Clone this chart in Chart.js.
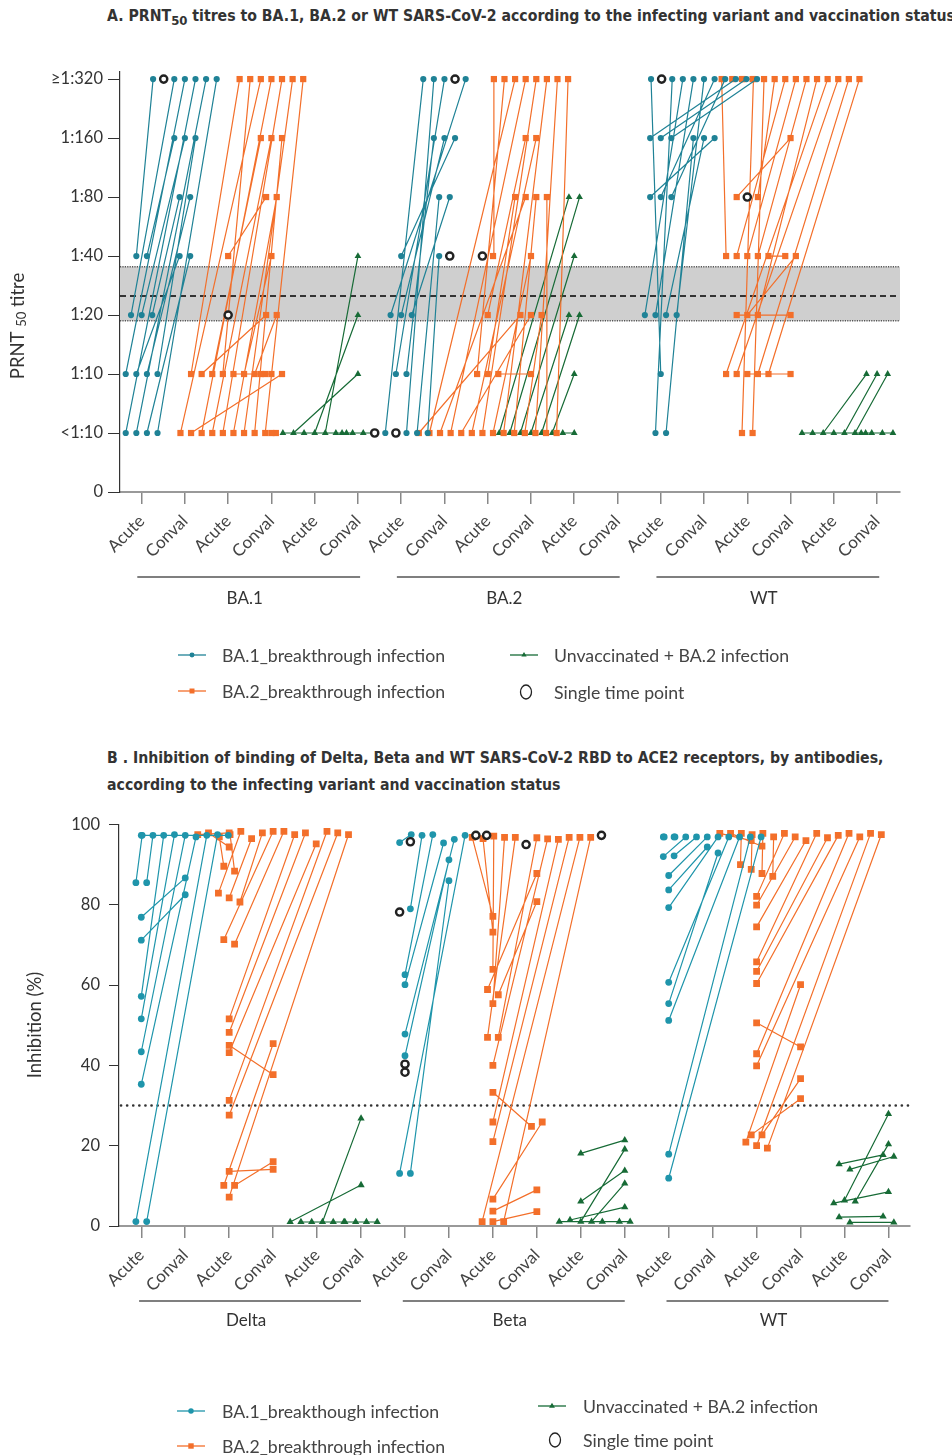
<!DOCTYPE html>
<html>
<head>
<meta charset="utf-8">
<script src="https://cdn.jsdelivr.net/npm/chart.js@4.4.0/dist/chart.umd.min.js"></script>
<style>
  body { margin: 0; background: #fff; width: 952px; height: 1455px; position: relative; overflow: hidden; font-family: Lato, sans-serif; }
  .title { position: absolute; left: 107px; font-family: "Liberation Sans Narrow", "DejaVu Sans Condensed", sans-serif; font-weight: bold; font-size: 15.7px; color: #333; white-space: nowrap; }
  .title sub { font-size: 13px; }
  canvas { position: absolute; left: 0; }
</style>
</head>
<body>
<div class="title" style="top:6px">A. PRNT<sub>50</sub> titres to BA.1, BA.2 or WT SARS-CoV-2 according to the infecting variant and vaccination status</div>
<canvas id="chartA" width="952" height="730" style="top:0"></canvas>
<div class="title" style="top:744px; line-height:27px">B . Inhibition of binding of Delta, Beta and WT SARS-CoV-2 RBD to ACE2 receptors, by antibodies,<br>according to the infecting variant and vaccination status</div>
<canvas id="chartB" width="952" height="725" style="top:730px"></canvas>
<script>
// Axis labels
const xTickLabels = ['Acute', 'Conval', 'Acute', 'Conval', 'Acute', 'Conval',
                     'Acute', 'Conval', 'Acute', 'Conval', 'Acute', 'Conval',
                     'Acute', 'Conval', 'Acute', 'Conval', 'Acute', 'Conval'];
const yTicksA = ['0', '<1:10', '1:10', '1:20', '1:40', '1:80', '1:160', '\u22651:320'];
const yTicksB = [0, 20, 40, 60, 80, 100];
const groupsA = ['BA.1', 'BA.2', 'WT'];
const groupsB = ['Delta', 'Beta', 'WT'];
const cohortNames = ['BA.1_breakthrough infection', 'BA.2_breakthrough infection', 'Unvaccinated + BA.2 infection', 'Single time point'];
const cohortNamesB = ['BA.1_breakthough infection', 'BA.2_breakthrough infection', 'Unvaccinated + BA.2 infection', 'Single time point'];

// Panel A: PRNT50 titres (reciprocal; 5 = <1:10, 320 = >=1:320). null = single time point
// b1 = BA.1 breakthrough, b2 = BA.2 breakthrough, un = unvaccinated + BA.2
const A_ba1_b1_acute  = [40, 40, null, 20, 20, 20, 10, 10, 10, 10, 5, 5, 5, 5];
const A_ba1_b1_conval = [320, 160, 320, 320, 160, 80, 320, 40, 80, 160, 320, 320, 40, 320];
const A_ba1_b2_acute  = [40, 20, 10, 10, 10, 10, 10, 10, 10, 10, 5, 5, 5, 5, 5, 5, 5, 5, 5, 5];
const A_ba1_b2_conval = [80, null, 320, 20, 160, 320, 10, 40, 20, 10, 320, 10, 320, 160, 320, 80, 320, 160, 320, 5];
const A_ba1_un_acute  = [5, 5, 5, 5, 5, 5, 5];
const A_ba1_un_conval = [5, 10, 5, 20, 40, 5, 5];

const A_ba2_b1_acute  = [5, 5, 5, 5, 5, 5, 10, null, 10, 20, 20, 20, 40, null];
const A_ba2_b1_conval = [null, 320, null, 320, 80, 40, 320, 320, 160, 320, 160, 80, 160, 40];
const A_ba2_b2_acute  = [40, 40, 20, 10, 10, 10, 5, 5, 5, 5, 5, 5, 5, 5, 5, 5, 5, 5, 5, 5];
const A_ba2_b2_conval = [null, 320, 160, 320, 80, 10, 20, 320, 80, 320, 20, 160, 320, 40, 320, 80, 20, 320, 80, 320];
const A_ba2_un_acute  = [5, 5, 5, 5, 5, 5, 5];
const A_ba2_un_conval = [80, 80, 40, 20, 20, 10, 5];

const A_wt_b1_acute  = [10, null, 5, 20, 20, 5, 20, 20, 80, 80, 80, 160, 160, 160];
const A_wt_b1_conval = [320, 320, 320, 320, 320, 160, 160, 320, 160, 320, 320, 320, 320, 320];
const A_wt_b2_acute  = [40, 320, 320, 5, 5, 80, 80, 80, 40, 40, 40, 40, 20, 20, 20, 10, 10, 10, 10, 10];
const A_wt_b2_conval = [320, 320, 320, 320, 320, 160, null, 320, 320, 320, 320, 40, 20, 40, 320, 320, 320, 10, 320, 320];
const A_wt_un_acute  = [5, 5, 5, 5, 5, 5, 5];
const A_wt_un_conval = [5, 5, 10, 5, 10, 10, 5];

// Panel B: % inhibition of RBD-ACE2 binding
const B_delta_b1_acute  = [85.5, 85.5, 76.9, 71.2, 57.2, 51.6, 43.4, 35.3, 1.1, 1.1, 97.3];
const B_delta_b1_conval = [97.3, 97.3, 86.7, 82.5, 97.3, 97.5, 97.3, 96.9, 97.3, 97.5, 97.3];
const B_delta_b2_acute  = [97.9, 94.4, 89.6, 88.4, 82.9, 81.7, 80.7, 71.3, 70.2, 51.6, 48.2, 45.0, 43.2, 31.3, 27.6, 13.6, 10.1, 10.1, 7.2];
const B_delta_b2_conval = [97.5, 97.9, 96.9, 97.5, 98.3, 96.5, 97.9, 98.3, 98.3, 97.5, 97.9, 37.7, 95.2, 98.3, 97.9, 14.1, 45.4, 16.0, 97.5];
const B_delta_un_acute  = [1.0, 1.0, 1.0, 1.0, 1.0, 1.0];
const B_delta_un_conval = [10.2, 1.0, 1.0, 26.8, 1.0, 1.0];

const B_beta_b1_acute  = [95.5, 95.7, 78.2, 79.0, 62.6, 60.1, 47.8, 42.4, 40.3, 38.3, 13.1, 13.1, null, null];
const B_beta_b1_conval = [97.5, null, null, 97.3, 97.5, 95.4, 96.3, 91.2, null, null, 97.3, 86.0, 97.3, 97.3];
const B_beta_b2_acute  = [77.1, 73.2, 63.9, 58.9, 57.6, 55.4, 47.0, null, 47.0, 40.0, 33.3, 25.9, 21.0, 6.7, 3.7, 1.1, 1.1, 1.1, null];
const B_beta_b2_conval = [96.8, 96.5, 97.1, 87.8, 80.8, 96.8, 96.8, 95.0, 96.7, 96.4, 24.8, 96.3, 96.8, 25.9, 9.0, 96.8, 3.6, 96.8, 97.3];
const B_beta_un_acute  = [18.1, 6.1, 1.1, 1.5, 1.1, 1.1, 1.1];
const B_beta_un_conval = [21.4, 13.8, 1.1, 4.7, 19.1, 10.6, 1.1];

const B_wt_b1_acute  = [96.9, 96.9, 92.0, 92.2, 87.3, 83.7, 79.3, 60.7, 55.4, 51.2, 17.9, 11.9];
const B_wt_b1_conval = [96.9, 96.9, 96.9, 96.9, 96.9, 94.4, 96.9, 96.9, 92.9, 96.9, 96.9, 96.9];
const B_wt_b2_acute  = [96.0, 94.6, 90.0, 88.8, 87.8, 87.1, 82.1, 79.9, 74.5, 65.8, 63.4, 60.4, 50.6, 42.9, 39.9, 22.7, 22.7, 20.9, 20.0, 19.4];
const B_wt_b2_conval = [97.8, 97.8, 97.8, 97.5, 97.8, 96.9, 97.8, 96.9, 96.0, 97.8, 96.7, 97.3, 44.6, 97.8, 96.9, 31.7, 36.7, 60.1, 97.8, 97.5];
const B_wt_un_acute  = [15.4, 14.1, 5.7, 6.4, 6.1, 2.2, 0.9];
const B_wt_un_conval = [17.7, 17.3, 8.5, 27.9, 20.4, 2.4, 0.9];

// Reference lines
const bandA = [18.7, 35.3];   // grey band (titre)
const cutoffA = 25;           // dashed line (titre)
const cutoffB = 30;           // dotted line (%)

// ---------- helpers ----------
const STEP = 0.245; // horizontal spacing of overlapping points, in slot units

const styleA = {
  b1: { color: '#1f8296', pointStyle: 'circle', radius: 3.1 },
  b2: { color: '#f36f2a', pointStyle: 'rect', radius: 4.4 },
  un: { color: '#176b36', pointStyle: 'triangle', radius: 3.9 }
};
const styleB = {
  b1: { color: '#1f95ab', pointStyle: 'circle', radius: 3.4 },
  b2: { color: '#f36f2a', pointStyle: 'rect', radius: 4.8 },
  un: { color: '#176b36', pointStyle: 'triangle', radius: 4.2 }
};

const titreToLevel = t => Math.log2(t / 5) + 1;

// spread points that sit on (nearly) the same value into a centred row
function swarm(ys, tol) {
  const off = ys.map(() => 0);
  const order = ys.map((v, i) => i).filter(i => ys[i] !== null).sort((a, b) => ys[a] - ys[b] || a - b);
  let run = [];
  const flush = () => {
    run.sort((a, b) => a - b).forEach((i, k) => { off[i] = (k - (run.length - 1) / 2) * STEP; });
    run = [];
  };
  order.forEach(i => {
    if (run.length && ys[i] - ys[run[run.length - 1]] > tol) flush();
    run.push(i);
  });
  flush();
  return off;
}

function buildDatasets(series, yOf, tol, style) {
  const datasets = [];
  const singles = [];
  series.forEach(s => {
    const ya = s.acute.map(v => v === null ? null : yOf(v));
    const yc = s.conval.map(v => v === null ? null : yOf(v));
    const oa = swarm(ya, tol), oc = swarm(yc, tol);
    const pts = [];
    ya.forEach((_, i) => {
      const p = ya[i] === null ? null : { x: s.slots[0] + oa[i], y: ya[i] };
      const q = yc[i] === null ? null : { x: s.slots[1] + oc[i], y: yc[i] };
      if (p && q) pts.push(p, q, { x: q.x, y: null });
      else singles.push(p || q);
    });
    const st = style[s.cohort];
    datasets.push({
      data: pts,
      showLine: true,
      spanGaps: false,
      borderColor: st.color,
      borderWidth: 1.2,
      backgroundColor: st.color,
      pointBackgroundColor: st.color,
      pointBorderColor: st.color,
      pointBorderWidth: 0,
      pointStyle: st.pointStyle,
      pointRadius: st.radius,
      order: { un: 3, b2: 2, b1: 1 }[s.cohort]
    });
  });
  datasets.push({
    data: singles,
    showLine: false,
    pointStyle: 'circle',
    pointRadius: 3.6,
    pointBackgroundColor: '#fff',
    pointBorderColor: '#222',
    pointBorderWidth: 2.4,
    order: 0
  });
  return datasets;
}

function drawMarker(ctx, kind, x, y, st) {
  ctx.fillStyle = st.color;
  ctx.beginPath();
  if (kind === 'circle') ctx.arc(x, y, st.radius, 0, Math.PI * 2);
  else if (kind === 'rect') { const h = st.radius * Math.SQRT1_2; ctx.rect(x - h, y - h, 2 * h, 2 * h); }
  else {
    const r = st.radius;
    ctx.moveTo(x, y - r);
    ctx.lineTo(x + r * 0.866, y + r * 0.5);
    ctx.lineTo(x - r * 0.866, y + r * 0.5);
    ctx.closePath();
  }
  ctx.fill();
}

// extra drawing: reference lines, group brackets, axis title, legend
const extras = {
  id: 'extras',
  beforeDatasetsDraw(chart, args, o) {
    const { ctx, chartArea: ca, scales: { x, y } } = chart;
    ctx.save();
    if (o.band) {
      const y1 = y.getPixelForValue(o.band[1]), y0 = y.getPixelForValue(o.band[0]);
      ctx.fillStyle = '#cfcfcf';
      ctx.fillRect(ca.left, y1, ca.right - ca.left, y0 - y1);
      ctx.strokeStyle = '#555';
      ctx.lineWidth = 1.5;
      ctx.setLineDash([1.2, 1.2]);
      [y0, y1].forEach(py => { ctx.beginPath(); ctx.moveTo(ca.left, py); ctx.lineTo(ca.right, py); ctx.stroke(); });
    }
    if (o.dashed != null) {
      const py = y.getPixelForValue(o.dashed);
      ctx.strokeStyle = '#333';
      ctx.lineWidth = 2;
      ctx.setLineDash([6, 4]);
      ctx.beginPath(); ctx.moveTo(ca.left, py); ctx.lineTo(ca.right, py); ctx.stroke();
    }
    if (o.dotted != null) {
      const py = y.getPixelForValue(o.dotted);
      ctx.strokeStyle = '#333';
      ctx.lineWidth = 2.6;
      ctx.lineCap = 'round';
      ctx.setLineDash([0.1, 6.0]);
      ctx.beginPath(); ctx.moveTo(ca.left + 2, py); ctx.lineTo(ca.right, py); ctx.stroke();
    }
    ctx.restore();
  },
  afterDraw(chart, args, o) {
    const { ctx, scales: { x } } = chart;
    ctx.save();
    // group brackets under the x axis
    ctx.font = '17px Lato';
    ctx.fillStyle = '#333';
    ctx.textAlign = 'center';
    ctx.textBaseline = 'middle';
    o.groups.forEach((g, k) => {
      const x0 = x.getPixelForValue(o.span[0] + 6 * k), x1 = x.getPixelForValue(o.span[1] + 6 * k);
      ctx.strokeStyle = '#555';
      ctx.lineWidth = 1.5;
      ctx.beginPath(); ctx.moveTo(x0, o.bracketY); ctx.lineTo(x1, o.bracketY); ctx.stroke();
      ctx.fillText(g, (x0 + x1) / 2 - 4, o.labelY);
    });
    // y axis title
    ctx.save();
    ctx.translate(o.yTitle.x, o.yTitle.y);
    ctx.rotate(-Math.PI / 2);
    ctx.textAlign = 'left';
    const parts = o.yTitle.parts;
    let w = 0;
    parts.forEach(p => { ctx.font = p.sub ? '13px Lato' : '18.5px Lato'; w += ctx.measureText(p.t).width; });
    let cx = -w / 2;
    parts.forEach(p => {
      ctx.font = p.sub ? '13px Lato' : '18.5px Lato';
      ctx.fillText(p.t, cx, p.sub ? 4 : 0);
      cx += ctx.measureText(p.t).width;
    });
    ctx.restore();
    // legend
    ctx.font = '17.7px Lato';
    ctx.fillStyle = '#444';
    ctx.textAlign = 'left';
    o.legend.forEach(it => {
      if (it.st) {
        ctx.strokeStyle = it.st.color;
        ctx.lineWidth = 1.3;
        ctx.beginPath(); ctx.moveTo(it.x, it.y); ctx.lineTo(it.x + 28, it.y); ctx.stroke();
        drawMarker(ctx, it.st.pointStyle, it.x + 14, it.y, { color: it.st.color, radius: it.st.radius * 0.8 });
      } else {
        ctx.strokeStyle = '#222';
        ctx.lineWidth = 1.3;
        ctx.beginPath(); ctx.ellipse(it.x + 14, it.y, 5.5, 7, 0, 0, Math.PI * 2); ctx.stroke();
      }
      ctx.fillStyle = '#444';
      ctx.fillText(it.text, it.tx, it.y + 1);
    });
    ctx.restore();
  }
};

function axisOptions(cfg) {
  return {
    x: {
      type: 'linear', min: cfg.xMin, max: cfg.xMax,
      afterBuildTicks: s => { s.ticks = xTickLabels.map((_, i) => ({ value: i + 1 })); },
      afterFit: s => { s.height = cfg.xHeight; },
      ticks: { autoSkip: false, minRotation: 45, maxRotation: 45, padding: 7,
               callback: (v, i) => xTickLabels[i], color: '#444', font: { family: 'Lato', size: 17 } },
      grid: { drawOnChartArea: false, tickLength: 12, color: '#888', lineWidth: 1.5 },
      border: { color: '#999', width: 2 }
    },
    y: {
      min: cfg.yMin, max: cfg.yMax,
      afterBuildTicks: s => { s.ticks = cfg.yTicks.map(t => ({ value: t })); },
      afterFit: s => { s.width = cfg.yWidth; },
      ticks: { padding: cfg.yPad, callback: cfg.yLabel, color: '#333', font: { family: 'Lato', size: 16.5 } },
      grid: { drawOnChartArea: false, tickLength: cfg.yTick, color: '#333', lineWidth: 1 },
      border: { color: '#333', width: 1.2 }
    }
  };
}

// ---------- Panel A ----------
const seriesA = [
  { cohort: 'un', slots: [5, 6], acute: A_ba1_un_acute, conval: A_ba1_un_conval },
  { cohort: 'b2', slots: [3, 4], acute: A_ba1_b2_acute, conval: A_ba1_b2_conval },
  { cohort: 'b1', slots: [1, 2], acute: A_ba1_b1_acute, conval: A_ba1_b1_conval },
  // the unvaccinated BA.2 group sits one slot to the left in the original figure
  { cohort: 'un', slots: [10, 11], acute: A_ba2_un_acute, conval: A_ba2_un_conval },
  { cohort: 'b2', slots: [9, 10], acute: A_ba2_b2_acute, conval: A_ba2_b2_conval },
  { cohort: 'b1', slots: [7, 8], acute: A_ba2_b1_acute, conval: A_ba2_b1_conval },
  { cohort: 'un', slots: [17, 18], acute: A_wt_un_acute, conval: A_wt_un_conval },
  { cohort: 'b2', slots: [15, 16], acute: A_wt_b2_acute, conval: A_wt_b2_conval },
  { cohort: 'b1', slots: [13, 14], acute: A_wt_b1_acute, conval: A_wt_b1_conval }
];

new Chart(document.getElementById('chartA').getContext('2d'), {
  type: 'scatter',
  data: { datasets: buildDatasets(seriesA, titreToLevel, 0.5, styleA) },
  options: {
    responsive: false,
    animation: false,
    layout: { padding: { top: 72, right: 52, bottom: 100, left: 0 } },
    plugins: {
      legend: { display: false },
      tooltip: { enabled: false },
      extras: {
        band: bandA.map(titreToLevel),
        dashed: titreToLevel(cutoffA),
        groups: groupsA, span: [0.9, 6.05], bracketY: 577, labelY: 599,
        yTitle: { x: 18, y: 326, parts: [{ t: 'PRNT ' }, { t: '50', sub: true }, { t: ' titre' }] },
        legend: [
          { st: styleA.b1, x: 178, y: 655, tx: 222, text: cohortNames[0] },
          { st: styleA.b2, x: 178, y: 691, tx: 222, text: cohortNames[1] },
          { st: styleA.un, x: 510, y: 655, tx: 554, text: cohortNames[2] },
          { x: 512, y: 692, tx: 554, text: cohortNames[3] }
        ]
      }
    },
    scales: axisOptions({
      xMin: 0.5, xMax: 18.53, xHeight: 138,
      yMin: 0, yMax: 7.12, yTicks: yTicksA.map((_, i) => i), yLabel: (v, i) => yTicksA[i],
      yWidth: 120, yPad: 5, yTick: 12
    })
  },
  plugins: [extras]
});

// ---------- Panel B ----------
const seriesB = [
  { cohort: 'un', slots: [5, 6], acute: B_delta_un_acute, conval: B_delta_un_conval },
  { cohort: 'b2', slots: [3, 4], acute: B_delta_b2_acute, conval: B_delta_b2_conval },
  { cohort: 'b1', slots: [1, 2], acute: B_delta_b1_acute, conval: B_delta_b1_conval },
  { cohort: 'un', slots: [11, 12], acute: B_beta_un_acute, conval: B_beta_un_conval },
  { cohort: 'b2', slots: [9, 10], acute: B_beta_b2_acute, conval: B_beta_b2_conval },
  { cohort: 'b1', slots: [7, 8], acute: B_beta_b1_acute, conval: B_beta_b1_conval },
  { cohort: 'un', slots: [17, 18], acute: B_wt_un_acute, conval: B_wt_un_conval },
  { cohort: 'b2', slots: [15, 16], acute: B_wt_b2_acute, conval: B_wt_b2_conval },
  { cohort: 'b1', slots: [13, 14], acute: B_wt_b1_acute, conval: B_wt_b1_conval }
];

new Chart(document.getElementById('chartB').getContext('2d'), {
  type: 'scatter',
  data: { datasets: buildDatasets(seriesB, v => v, 1.6, styleB) },
  options: {
    responsive: false,
    animation: false,
    layout: { padding: { top: 94.5, right: 42, bottom: 115, left: 0 } },
    plugins: {
      legend: { display: false },
      tooltip: { enabled: false },
      extras: {
        dotted: cutoffB,
        groups: groupsB, span: [0.95, 6.0], bracketY: 571, labelY: 591,
        yTitle: { x: 35, y: 295, parts: [{ t: 'Inhibition (%)' }] },
        legend: [
          { st: styleB.b1, x: 177, y: 681, tx: 222, text: cohortNamesB[0] },
          { st: styleB.b2, x: 177, y: 716, tx: 222, text: cohortNamesB[1] },
          { st: styleB.un, x: 538, y: 676, tx: 583, text: cohortNamesB[2] },
          { x: 541, y: 710, tx: 583, text: cohortNamesB[3] }
        ]
      }
    },
    scales: axisOptions({
      xMin: 0.493, xMax: 18.49, xHeight: 114,
      yMin: 0, yMax: 100, yTicks: yTicksB, yLabel: v => v,
      yWidth: 119, yPad: 9, yTick: 10
    })
  },
  plugins: [extras]
});
</script>
</body>
</html>
